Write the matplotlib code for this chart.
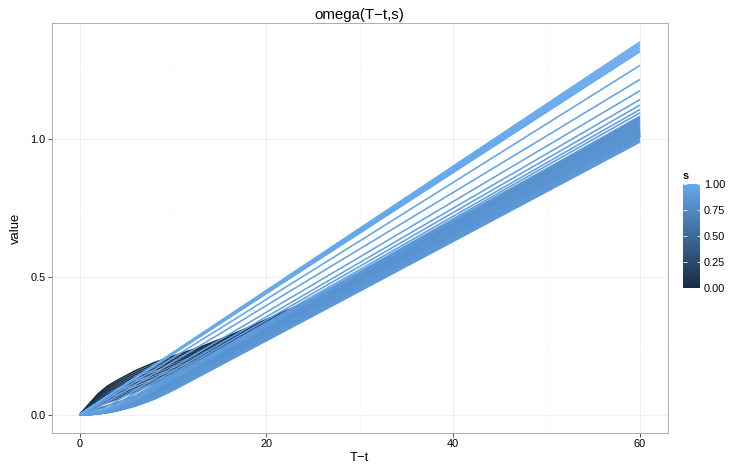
import matplotlib
matplotlib.use("Agg")
import matplotlib.pyplot as plt
import numpy as np
from matplotlib.colors import LinearSegmentedColormap, Normalize
from matplotlib.cm import ScalarMappable

plt.rcParams['font.family'] = ['Liberation Sans', 'DejaVu Sans']

knot_x = [0, 1, 2, 3, 4, 6, 8, 10, 13, 17, 22, 30, 60]

# straight lines at the top (s close to 1)
top_s = [1.0, 0.995, 0.99, 0.985, 0.98, 0.975]
top_end = [1.352, 1.345, 1.338, 1.331, 1.324, 1.317]

# fanned lines above the dense band
fan_s = [0.96, 0.95, 0.94, 0.93, 0.92, 0.91, 0.90, 0.89]
fan_vals = [
    [0, 0.015, 0.036, 0.057, 0.079, 0.121, 0.163, 0.206, 0.270, 0.354, 0.461, 0.630, 1.267],
    [0, 0.007, 0.027, 0.047, 0.068, 0.109, 0.150, 0.191, 0.252, 0.334, 0.437, 0.601, 1.216],
    [0, 0.003, 0.013, 0.030, 0.050, 0.090, 0.131, 0.171, 0.231, 0.311, 0.412, 0.572, 1.175],
    [0, 0.002, 0.010, 0.022, 0.039, 0.079, 0.118, 0.158, 0.217, 0.296, 0.394, 0.552, 1.143],
    [0, 0.002, 0.008, 0.018, 0.032, 0.070, 0.109, 0.148, 0.207, 0.285, 0.382, 0.538, 1.123],
    [0, 0.002, 0.007, 0.016, 0.028, 0.062, 0.101, 0.139, 0.197, 0.275, 0.372, 0.526, 1.107],
    [0, 0.002, 0.006, 0.014, 0.025, 0.056, 0.094, 0.133, 0.191, 0.267, 0.364, 0.518, 1.095],
    [0, 0.001, 0.006, 0.013, 0.023, 0.051, 0.088, 0.126, 0.184, 0.260, 0.356, 0.509, 1.083],
]

# dense band of medium lines (top of band first)
mid_s = [0.800, 0.805, 0.810, 0.815, 0.820, 0.825, 0.830, 0.835, 0.840, 0.845, 0.850,
         0.855, 0.860, 0.865]
mid_vals = [
    [0, 0.002, 0.008, 0.017, 0.030, 0.066, 0.103, 0.141, 0.197, 0.272, 0.366, 0.516, 1.078],
    [0, 0.002, 0.007, 0.016, 0.028, 0.062, 0.099, 0.136, 0.193, 0.267, 0.361, 0.510, 1.071],
    [0, 0.002, 0.006, 0.014, 0.026, 0.058, 0.095, 0.132, 0.188, 0.263, 0.356, 0.505, 1.064],
    [0, 0.0015, 0.006, 0.0135, 0.024, 0.054, 0.091, 0.128, 0.184, 0.258, 0.351, 0.500, 1.058],
    [0, 0.0014, 0.0056, 0.0126, 0.0225, 0.0506, 0.087, 0.124, 0.180, 0.254, 0.347, 0.495, 1.051],
    [0, 0.0013, 0.0053, 0.0119, 0.0211, 0.0475, 0.083, 0.120, 0.176, 0.249, 0.342, 0.490, 1.044],
    [0, 0.0012, 0.005, 0.0112, 0.0199, 0.0448, 0.079, 0.116, 0.171, 0.245, 0.337, 0.484, 1.037],
    [0, 0.0012, 0.0047, 0.0106, 0.0188, 0.0424, 0.075, 0.112, 0.167, 0.241, 0.333, 0.480, 1.031],
    [0, 0.0011, 0.0045, 0.0101, 0.0179, 0.0402, 0.0715, 0.108, 0.163, 0.236, 0.328, 0.474, 1.024],
    [0, 0.0011, 0.0042, 0.0096, 0.017, 0.0382, 0.068, 0.104, 0.159, 0.232, 0.323, 0.469, 1.017],
    [0, 0.001, 0.004, 0.0091, 0.0162, 0.0364, 0.0647, 0.100, 0.155, 0.227, 0.318, 0.464, 1.010],
    [0, 0.001, 0.0039, 0.0087, 0.0155, 0.0348, 0.0618, 0.0962, 0.151, 0.223, 0.314, 0.459, 1.004],
    [0, 0.0009, 0.0037, 0.0083, 0.0148, 0.0332, 0.0591, 0.0923, 0.147, 0.219, 0.309, 0.454, 0.997],
    [0, 0.0009, 0.0036, 0.008, 0.0142, 0.0319, 0.0568, 0.0887, 0.143, 0.215, 0.305, 0.449, 0.990],
]

# dark lines with the early bump
dark_s = [0.0, 0.025, 0.05, 0.075, 0.1, 0.15, 0.2, 0.25, 0.3, 0.35, 0.45, 0.55, 0.7]
dark_vals = [
    [0, 0.038, 0.076, 0.104, 0.124, 0.160, 0.189, 0.212, 0.246, 0.300, 0.375, 0.490, 1.010],
    [0, 0.0358, 0.0717, 0.0984, 0.1176, 0.1528, 0.182, 0.2058, 0.241, 0.2961, 0.372, 0.4887, 1.011],
    [0, 0.0336, 0.0674, 0.0927, 0.1113, 0.1457, 0.175, 0.1995, 0.236, 0.2921, 0.369, 0.4875, 1.012],
    [0, 0.0314, 0.0631, 0.0871, 0.1049, 0.1385, 0.168, 0.1933, 0.2309, 0.2882, 0.3659, 0.4862, 1.013],
    [0, 0.0291, 0.0588, 0.0815, 0.0986, 0.1313, 0.1609, 0.1871, 0.2259, 0.2843, 0.3629, 0.4849, 1.015],
    [0, 0.0266, 0.0538, 0.0749, 0.0911, 0.123, 0.1528, 0.1798, 0.2201, 0.2797, 0.3594, 0.4835, 1.018],
    [0, 0.024, 0.0488, 0.0683, 0.0837, 0.1146, 0.1446, 0.1726, 0.2142, 0.2751, 0.3558, 0.482, 1.02],
    [0, 0.0214, 0.0438, 0.0617, 0.0763, 0.1063, 0.1364, 0.1653, 0.2083, 0.2705, 0.3523, 0.4805, 1.022],
    [0, 0.0188, 0.0388, 0.0552, 0.0689, 0.0979, 0.1282, 0.158, 0.2025, 0.2659, 0.3488, 0.479, 1.025],
    [0, 0.0166, 0.0345, 0.0495, 0.0625, 0.0907, 0.1212, 0.1518, 0.1975, 0.262, 0.3458, 0.4778, 1.027],
    [0, 0.0144, 0.0302, 0.0439, 0.0562, 0.0836, 0.1142, 0.1456, 0.1924, 0.2581, 0.3427, 0.4765, 1.03],
    [0, 0.01, 0.0217, 0.0326, 0.0434, 0.0693, 0.1002, 0.1331, 0.1824, 0.2502, 0.3367, 0.474, 1.035],
    [0, 0.0055, 0.0131, 0.0214, 0.0307, 0.0549, 0.0861, 0.1207, 0.1723, 0.2424, 0.3306, 0.4714, 1.04],
]

cmap = LinearSegmentedColormap.from_list('gg', ['#172C44', '#66A9EE'])
norm = Normalize(0, 1)

W, H = 733, 474
fig = plt.figure(figsize=(W / 72, H / 72), dpi=72)
ax = fig.add_axes([51.5 / W, 1 - 433.3 / H, (668 - 51.5) / W, (433.3 - 23.3) / H])

# collect lines, draw in order of s (low s first, like ggplot groups)
lines = []
for s, v in zip(dark_s, dark_vals):
    lines.append((s, knot_x, v, 1.6))
for s, v in zip(mid_s, mid_vals):
    lines.append((s, knot_x, v, 2.1))
for s, v in zip(fan_s, fan_vals):
    lines.append((s, knot_x, v, 1.6))
for s, e in zip(top_s, top_end):
    lines.append((s, [0, 60], [0, e], 1.6))
lines.sort(key=lambda t: t[0])

for s, xs, ys, lw in lines:
    ax.plot(xs, ys, color=cmap(norm(s)), lw=lw, solid_capstyle='butt',
            solid_joinstyle='round')

ax.set_xlim(-3, 63)
ax.set_ylim(-0.0676, 1.4196)
ax.set_xticks([0, 20, 40, 60])
ax.set_xticks([10, 30, 50], minor=True)
ax.set_yticks([0.0, 0.5, 1.0])
ax.set_yticklabels(['0.0', '0.5', '1.0'])
ax.set_yticks([0.25, 0.75, 1.25], minor=True)
ax.grid(which='major', color='#ebebeb', lw=0.8)
ax.grid(which='minor', color='#f7f7f7', lw=0.6)
ax.set_axisbelow(True)
for sp in ax.spines.values():
    sp.set_color('#a6a6a6')
    sp.set_linewidth(0.9)
ax.tick_params(which='major', length=4, width=0.8, color='#333333', labelsize=11,
               labelcolor='black', pad=2)
ax.tick_params(which='minor', length=0)

ax.set_title('omega(T\u2212t,s)', fontsize=15, pad=4)
ax.set_xlabel('T\u2212t', fontsize=13, labelpad=3)
ax.set_ylabel('value', fontsize=13, labelpad=8)

# colour bar legend
cax = fig.add_axes([683 / W, 1 - 287.5 / H, 17 / W, 104 / H])
cb = fig.colorbar(ScalarMappable(norm=norm, cmap=cmap), cax=cax)
cb.outline.set_visible(False)
cb.set_ticks([0, 0.25, 0.5, 0.75, 1.0])
cb.set_ticklabels(['0.00', '0.25', '0.50', '0.75', '1.00'])
cax.tick_params(axis='y', direction='in', length=3.5, width=0.8, color='white',
                left=True, right=True, labelsize=11, labelcolor='black', pad=4)
fig.text(683 / W, 1 - 176 / H, 's', fontsize=11, fontweight='bold', va='center', ha='left')

fig.savefig('out.png', dpi=72)
